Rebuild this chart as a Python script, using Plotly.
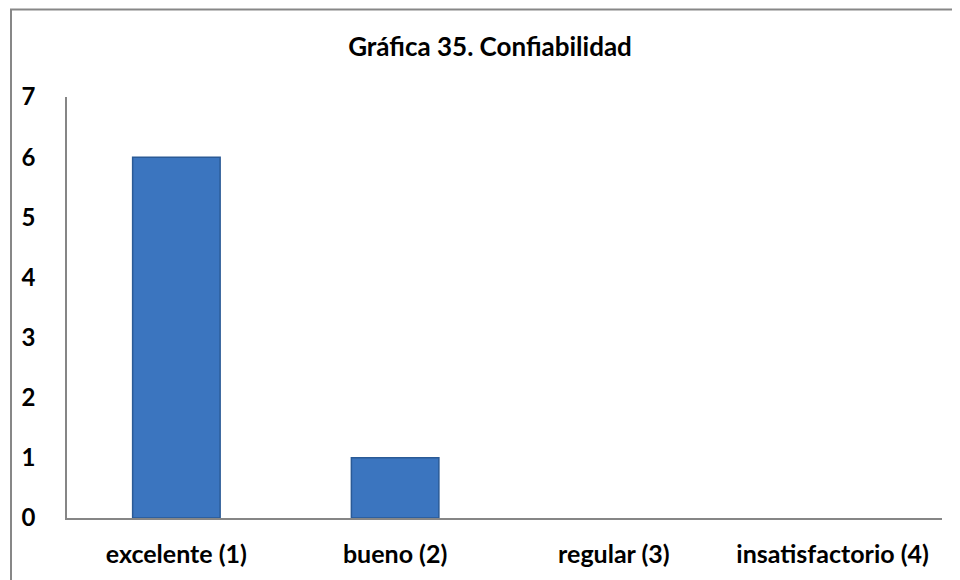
import plotly.graph_objects as go

categories = ["excelente (1)", "bueno (2)", "regular (3)", "insatisfactorio (4)"]
values = [6, 1, 0, 0]
title_text = "Gráfica 35. Confiabilidad"
y_ticks = [0, 1, 2, 3, 4, 5, 6, 7]

W, H = 960, 580
OFF = 8  # page body margin offset compensation
L, R, T, B = 67 - OFF, 18 + OFF, 97 - OFF, 62 + OFF
pw, ph = W - L - R, H - T - B

fig = go.Figure()
fig.add_trace(go.Bar(
    x=categories, y=values,
    marker=dict(color="#3B75BF",
                line=dict(color="#2A5A96", width=[1.5 if v > 0 else 0 for v in values])),
    width=0.4,
))

font = "Lato, 'Open Sans', sans-serif"
fig.update_layout(
    width=W, height=H,
    margin=dict(l=L, r=R, t=T, b=B),
    paper_bgcolor="white", plot_bgcolor="white",
    showlegend=False,
    title=dict(text="<b>" + title_text + "</b>", x=(490 - OFF) / W, xanchor="center",
               y=1 - (47 - OFF) / H, yanchor="middle",
               font=dict(family=font, size=26, color="black")),
    xaxis=dict(showline=True, linecolor="#868686", linewidth=1.5, showgrid=False,
               ticks="", ticklabelstandoff=13,
               tickvals=categories, ticktext=["<b>" + c + "</b>" for c in categories],
               tickfont=dict(family=font, size=25, color="black")),
    yaxis=dict(range=[0, 7], tickvals=y_ticks, ticktext=["<b>%d</b>" % t for t in y_ticks],
               showline=True, linecolor="#868686",
               linewidth=1.5, showgrid=False, zeroline=False, ticks="",
               ticklabelstandoff=25,
               tickfont=dict(family=font, size=24, color="black")),
    shapes=[dict(type="rect", xref="paper", yref="paper",
                 x0=(11 - OFF - L) / pw, x1=(W + 20 - L) / pw,
                 y0=-(B + 20) / ph, y1=1 + (T - (9.5 - OFF)) / ph,
                 line=dict(color="#878787", width=2), layer="below")],
)
fig.write_html("out.html")
